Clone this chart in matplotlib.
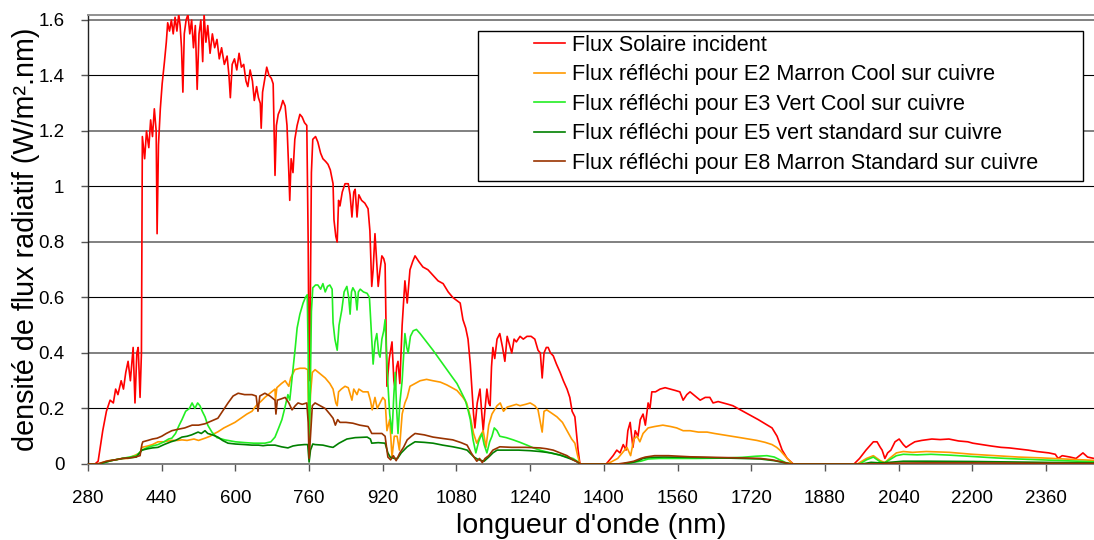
import matplotlib
matplotlib.use("Agg")
import matplotlib.pyplot as plt
from matplotlib.patches import Rectangle
from matplotlib.ticker import FuncFormatter

plt.rcParams['font.family'] = ['Liberation Sans', 'DejaVu Sans']

# spectra (wavelength nm, W/m2.nm)
solaire_wl = [280, 295, 302, 312, 320, 328, 335, 340, 345, 352, 357, 362, 367, 372, 378, 382, 386, 389, 393, 396,
              398, 403, 407, 412, 416, 420, 424, 428, 430, 433, 437, 441, 446, 450, 453, 457, 461, 465, 469, 473,
              477, 480, 483, 486, 489, 493, 497, 501, 505, 509, 513, 517, 521, 525, 529, 532, 536, 540, 545, 550,
              555, 560, 565, 570, 576, 582, 586, 589, 593, 598, 603, 608, 613, 618, 623, 627, 632, 637, 641, 646,
              650, 654, 656, 659, 663, 668, 673, 678, 682, 686, 689, 693, 698, 703, 708, 712, 716, 718, 721, 725,
              729, 734, 740, 745, 750, 755, 758, 760, 762, 765, 768, 774, 779, 785, 790, 796, 801, 806, 812, 814,
              818, 821, 824, 827, 832, 838, 845, 849, 853, 857, 860, 864, 868, 874, 881, 888, 892, 896, 899, 903,
              907, 910, 914, 918, 922, 925, 929, 934, 940, 944, 947, 950, 953, 957, 962, 968, 973, 979, 985, 990,
              998, 1007, 1018, 1029, 1040, 1051, 1062, 1072, 1080, 1088, 1094, 1100, 1105, 1110, 1114, 1117, 1120,
              1125, 1131, 1135, 1138, 1142, 1146, 1150, 1153, 1156, 1159, 1163, 1168, 1174, 1180, 1185, 1190, 1195,
              1200, 1205, 1210, 1218, 1225, 1233, 1242, 1250, 1257, 1262, 1266, 1270, 1275, 1279, 1284, 1290, 1297,
              1305, 1312, 1320, 1326, 1331, 1337, 1341, 1344, 1348, 1405, 1410, 1420, 1428, 1435, 1442, 1448, 1452,
              1457, 1463, 1468, 1474, 1479, 1485, 1490, 1496, 1500, 1504, 1512, 1522, 1533, 1544, 1555, 1565, 1572,
              1580, 1587, 1598, 1609, 1620, 1630, 1637, 1648, 1659, 1670, 1680, 1691, 1702, 1713, 1724, 1735, 1745,
              1755, 1765, 1776, 1787, 1798, 1811, 1943, 1955, 1969, 1985, 1993, 2000, 2004, 2010, 2016, 2023, 2032,
              2041, 2050, 2056, 2065, 2075, 2090, 2112, 2130, 2149, 2170, 2190, 2201, 2220, 2240, 2262, 2280, 2300,
              2321, 2340, 2366, 2380, 2386, 2395, 2412, 2425, 2440, 2450, 2464]
solaire_val = [0, 0, 0.01, 0.12, 0.19, 0.23, 0.22, 0.27, 0.25, 0.30, 0.27, 0.33, 0.37, 0.30, 0.42, 0.22, 0.40, 0.42, 0.24, 0.40,
               1.18, 1.10, 1.20, 1.14, 1.24, 1.18, 1.28, 1.20, 0.83, 1.15, 1.28, 1.37, 1.45, 1.52, 1.59, 1.56, 1.60, 1.55, 1.61, 1.56,
               1.62, 1.58, 1.50, 1.34, 1.55, 1.60, 1.62, 1.55, 1.60, 1.50, 1.58, 1.35, 1.55, 1.60, 1.45, 1.62, 1.52, 1.58, 1.48, 1.55,
               1.50, 1.53, 1.46, 1.50, 1.44, 1.47, 1.40, 1.32, 1.44, 1.46, 1.42, 1.48, 1.43, 1.44, 1.38, 1.36, 1.42, 1.38, 1.31, 1.36,
               1.32, 1.30, 1.21, 1.34, 1.38, 1.43, 1.40, 1.39, 1.37, 1.04, 1.22, 1.26, 1.28, 1.31, 1.29, 1.22, 1.05, 0.95, 1.10, 1.05,
               1.17, 1.22, 1.26, 1.25, 1.23, 1.22, 0.80, 0.30, 0.45, 1.05, 1.17, 1.18, 1.16, 1.12, 1.10, 1.09, 1.08, 1.06, 1.01, 0.88,
               0.82, 0.80, 0.95, 0.93, 0.98, 1.01, 1.01, 0.97, 0.89, 0.98, 0.99, 0.89, 0.97, 0.95, 0.94, 0.92, 0.84, 0.64, 0.70, 0.83,
               0.72, 0.64, 0.70, 0.75, 0.74, 0.72, 0.28, 0.38, 0.44, 0.30, 0.27, 0.35, 0.37, 0.29, 0.50, 0.66, 0.58, 0.70, 0.73, 0.75,
               0.73, 0.71, 0.70, 0.68, 0.66, 0.65, 0.62, 0.60, 0.59, 0.58, 0.52, 0.49, 0.45, 0.36, 0.26, 0.18, 0.13,
               0.22, 0.27, 0.18, 0.12, 0.20, 0.27, 0.22, 0.21, 0.35, 0.42, 0.38, 0.45, 0.47, 0.42, 0.37, 0.46, 0.43,
               0.40, 0.45, 0.44, 0.46, 0.45, 0.46, 0.46, 0.45, 0.41, 0.40, 0.31, 0.40, 0.42, 0.42, 0.40, 0.39, 0.36,
               0.33, 0.30, 0.27, 0.24, 0.19, 0.17, 0.10, 0.05, 0, 0, 0.01, 0.03, 0.05, 0.04, 0.07, 0.05, 0.12,
               0.15, 0.06, 0.12, 0.10, 0.16, 0.18, 0.14, 0.22, 0.20, 0.26, 0.26, 0.27, 0.275, 0.27, 0.265, 0.26, 0.23,
               0.25, 0.26, 0.245, 0.23, 0.24, 0.24, 0.22, 0.225, 0.22, 0.215, 0.21, 0.20, 0.19, 0.18, 0.17, 0.16, 0.15,
               0.14, 0.13, 0.10, 0.05, 0.02, 0, 0, 0.02, 0.05, 0.08, 0.08, 0.06, 0.05, 0.02, 0.04, 0.05, 0.08,
               0.09, 0.07, 0.06, 0.07, 0.08, 0.085, 0.09, 0.088, 0.09, 0.083, 0.08, 0.075, 0.07, 0.065, 0.06, 0.058, 0.054,
               0.05, 0.045, 0.04, 0.035, 0.02, 0.03, 0.025, 0.02, 0.04, 0.025, 0.02]

e2_wl = [280, 300, 310, 325, 339, 355, 367, 380, 393, 397, 410, 420, 432, 445, 460, 475, 484, 495, 510, 520,
         534, 545, 555, 562, 575, 587, 599, 612, 625, 636, 645, 655, 664, 675, 686, 687, 690, 700, 708, 716,
         720, 729, 740, 751, 757, 760, 763, 767, 773, 784, 795, 805, 812, 818, 821, 824, 830, 838, 845, 853,
         857, 864, 868, 877, 888, 893, 897, 903, 908, 914, 920, 925, 929, 935, 940, 945, 951, 956, 962, 968,
         973, 979, 990, 1001, 1015, 1029, 1045, 1059, 1070, 1081, 1094, 1102, 1110, 1117, 1124, 1131, 1138, 1144,
         1150, 1157, 1168, 1175, 1182, 1190, 1200, 1210, 1218, 1230, 1240, 1250, 1257, 1266, 1270, 1276, 1285,
         1298, 1310, 1320, 1330, 1337, 1343, 1348, 1405, 1413, 1430, 1440, 1450, 1458, 1465, 1472, 1478, 1485,
         1496, 1510, 1528, 1545, 1558, 1572, 1587, 1605, 1624, 1640, 1659, 1678, 1696, 1714, 1732, 1750, 1765,
         1775, 1782, 1790, 1798, 1810, 1950, 1970, 1985, 2000, 2010, 2020, 2035, 2050, 2070, 2100, 2150, 2200,
         2250, 2300, 2350, 2400, 2464]
e2_val = [0, 0, 0.005, 0.012, 0.015, 0.02, 0.02, 0.03, 0.04, 0.06, 0.065, 0.07, 0.08, 0.08, 0.085, 0.085, 0.087, 0.085, 0.09, 0.085,
          0.093, 0.10, 0.11, 0.116, 0.13, 0.14, 0.15, 0.165, 0.18, 0.19, 0.21, 0.225, 0.24, 0.255, 0.27, 0.23, 0.275, 0.29, 0.30, 0.28,
          0.31, 0.34, 0.345, 0.345, 0.34, 0.10, 0.25, 0.33, 0.34, 0.325, 0.31, 0.29, 0.27, 0.22, 0.21, 0.26, 0.27, 0.28, 0.275, 0.23,
          0.27, 0.25, 0.27, 0.26, 0.26, 0.23, 0.195, 0.24, 0.20, 0.22, 0.24, 0.23, 0.12, 0.16, 0.025, 0.10, 0.10, 0.05, 0.18, 0.22,
          0.24, 0.28, 0.29, 0.30, 0.305, 0.30, 0.295, 0.285, 0.275, 0.265, 0.24, 0.22, 0.17, 0.11, 0.075, 0.10, 0.12, 0.06,
          0.14, 0.18, 0.21, 0.22, 0.19, 0.205, 0.21, 0.215, 0.21, 0.215, 0.22, 0.21, 0.195, 0.115, 0.19, 0.195, 0.185,
          0.17, 0.15, 0.12, 0.09, 0.075, 0.03, 0, 0, 0.005, 0.02, 0.04, 0.06, 0.03, 0.09, 0.10, 0.08, 0.11,
          0.13, 0.135, 0.14, 0.135, 0.13, 0.12, 0.12, 0.115, 0.115, 0.11, 0.105, 0.10, 0.095, 0.09, 0.085, 0.078, 0.07,
          0.06, 0.05, 0.035, 0.02, 0, 0, 0.02, 0.03, 0.012, 0.005, 0.02, 0.04, 0.045, 0.042, 0.045, 0.042, 0.035,
          0.03, 0.025, 0.022, 0.018, 0.013]

e3_wl = [280, 305, 315, 330, 339, 355, 370, 385, 397, 410, 420, 432, 445, 455, 462, 470, 478, 484, 492, 500,
         506, 512, 518, 523, 528, 534, 540, 549, 560, 577, 600, 621, 640, 664, 677, 686, 694, 701, 707, 714,
         718, 723, 730, 734, 740, 747, 752, 756, 758, 760, 762, 765, 768, 774, 779, 785, 790, 795, 800, 805,
         810, 812, 816, 821, 825, 831, 836, 842, 846, 849, 852, 855, 860, 864, 867, 871, 878, 886, 891, 896,
         899, 903, 907, 911, 914, 918, 922, 925, 928, 931, 935, 940, 944, 947, 950, 953, 957, 962, 968, 972,
         975, 980, 986, 993, 1001, 1015, 1029, 1044, 1059, 1070, 1081, 1090, 1099, 1105, 1110, 1116, 1122, 1128,
         1135, 1140, 1146, 1152, 1157, 1162, 1168, 1174, 1188, 1203, 1218, 1233, 1247, 1261, 1283, 1305, 1320,
         1333, 1342, 1348, 1440, 1460, 1480, 1496, 1520, 1560, 1600, 1650, 1700, 1730, 1754, 1770, 1782, 1795,
         1810, 1955, 1970, 1985, 1998, 2008, 2020, 2035, 2050, 2080, 2110, 2150, 2200, 2250, 2300, 2350, 2400, 2464]
e3_val = [0, 0, 0.005, 0.012, 0.015, 0.02, 0.025, 0.03, 0.05, 0.06, 0.065, 0.07, 0.08, 0.09, 0.093, 0.11, 0.14, 0.16, 0.19, 0.20,
          0.22, 0.20, 0.22, 0.21, 0.19, 0.17, 0.14, 0.115, 0.095, 0.087, 0.08, 0.077, 0.075, 0.075, 0.08, 0.097, 0.13, 0.16, 0.20, 0.25,
          0.23, 0.31, 0.42, 0.49, 0.54, 0.58, 0.60, 0.61, 0.40, 0.02, 0.20, 0.55, 0.635, 0.645, 0.645, 0.63, 0.65, 0.62, 0.64, 0.645,
          0.63, 0.51, 0.45, 0.41, 0.50, 0.555, 0.62, 0.64, 0.60, 0.54, 0.62, 0.635, 0.62, 0.555, 0.62, 0.63, 0.62, 0.615, 0.60, 0.45,
          0.36, 0.44, 0.47, 0.40, 0.385, 0.45, 0.48, 0.52, 0.40, 0.29, 0.18, 0.11, 0.25, 0.33, 0.20, 0.11, 0.22, 0.30, 0.47, 0.42,
          0.40, 0.46, 0.48, 0.485, 0.47, 0.44, 0.41, 0.375, 0.34, 0.315, 0.29, 0.26, 0.23, 0.195, 0.16, 0.087, 0.04, 0.08,
          0.11, 0.07, 0.04, 0.08, 0.10, 0.13, 0.12, 0.10, 0.095, 0.087, 0.078, 0.068, 0.058, 0.05, 0.04, 0.032, 0.025,
          0.02, 0.01, 0, 0, 0.005, 0.01, 0.018, 0.02, 0.02, 0.02, 0.021, 0.024, 0.028, 0.03, 0.025, 0.015, 0.005,
          0, 0, 0.015, 0.025, 0.01, 0.003, 0.015, 0.03, 0.035, 0.033, 0.035, 0.032, 0.027, 0.022, 0.018, 0.015, 0.012, 0.008]

e5_wl = [280, 305, 315, 330, 339, 355, 370, 385, 397, 410, 420, 432, 445, 460, 470, 484, 495, 505, 512, 519,
         526, 534, 540, 550, 562, 572, 584, 600, 620, 636, 650, 660, 670, 686, 700, 714, 725, 736, 750, 757,
         760, 763, 768, 773, 790, 805, 812, 825, 842, 860, 886, 893, 896, 910, 925, 931, 936, 945, 952, 960,
         973, 985, 990, 1010, 1029, 1050, 1072, 1090, 1103, 1112, 1118, 1125, 1131, 1140, 1150, 1159, 1168, 1190,
         1215, 1240, 1261, 1285, 1305, 1325, 1340, 1348, 1440, 1460, 1475, 1485, 1500, 1530, 1580, 1650, 1700,
         1740, 1770, 1790, 1805, 1960, 1980, 2000, 2020, 2050, 2100, 2200, 2300, 2400, 2464]
e5_val = [0, 0, 0.005, 0.012, 0.015, 0.02, 0.022, 0.025, 0.05, 0.055, 0.058, 0.06, 0.07, 0.08, 0.085, 0.097, 0.10, 0.105, 0.11, 0.115,
          0.11, 0.12, 0.11, 0.105, 0.097, 0.085, 0.075, 0.072, 0.07, 0.068, 0.068, 0.066, 0.068, 0.068, 0.062, 0.058, 0.065, 0.068, 0.07, 0.07,
          0.007, 0.05, 0.072, 0.07, 0.068, 0.062, 0.06, 0.075, 0.09, 0.095, 0.097, 0.09, 0.075, 0.077, 0.075, 0.04, 0.025, 0.02, 0.02, 0.04,
          0.062, 0.075, 0.08, 0.078, 0.075, 0.068, 0.062, 0.056, 0.05, 0.035, 0.025, 0.018, 0.014, 0.01, 0.025, 0.04, 0.05, 0.05,
          0.05, 0.048, 0.045, 0.04, 0.032, 0.02, 0.01, 0, 0, 0.005, 0.012, 0.02, 0.024, 0.025, 0.024, 0.022, 0.02,
          0.018, 0.012, 0.005, 0, 0, 0.006, 0.004, 0.006, 0.01, 0.01, 0.009, 0.007, 0.005, 0.004]

e8_wl = [280, 300, 307, 320, 339, 355, 370, 382, 393, 397, 399, 410, 420, 430, 440, 450, 462, 475, 490, 506,
         520, 534, 548, 562, 572, 584, 595, 606, 620, 636, 645, 649, 653, 664, 675, 686, 688, 691, 700, 708,
         716, 723, 730, 736, 745, 755, 758, 760, 763, 767, 773, 784, 795, 805, 812, 817, 822, 827, 840, 855,
         870, 888, 893, 896, 905, 918, 925, 931, 937, 943, 949, 957, 965, 973, 982, 990, 1010, 1029, 1050, 1072,
         1090, 1103, 1112, 1118, 1124, 1130, 1136, 1142, 1150, 1159, 1174, 1200, 1230, 1261, 1275, 1290, 1305,
         1320, 1333, 1345, 1350, 1430, 1450, 1465, 1480, 1490, 1510, 1540, 1587, 1640, 1696, 1740, 1765, 1785,
         1800, 1810, 2000, 2020, 2100, 2200, 2300, 2464]
e8_val = [0, 0, 0.003, 0.01, 0.015, 0.02, 0.022, 0.025, 0.03, 0.07, 0.08, 0.085, 0.09, 0.093, 0.10, 0.11, 0.12, 0.125, 0.13, 0.14,
          0.14, 0.145, 0.155, 0.165, 0.19, 0.22, 0.245, 0.255, 0.25, 0.25, 0.245, 0.19, 0.245, 0.255, 0.245, 0.23, 0.18, 0.23, 0.235, 0.24,
          0.22, 0.195, 0.21, 0.22, 0.215, 0.22, 0.15, 0.02, 0.10, 0.21, 0.22, 0.21, 0.20, 0.18, 0.165, 0.14, 0.16, 0.15, 0.15, 0.147,
          0.14, 0.135, 0.12, 0.11, 0.11, 0.11, 0.10, 0.025, 0.015, 0.03, 0.012, 0.04, 0.06, 0.087, 0.10, 0.11, 0.105, 0.097, 0.092, 0.087,
          0.077, 0.068, 0.04, 0.025, 0.01, 0.02, 0.005, 0.02, 0.03, 0.05, 0.062, 0.06, 0.06, 0.058, 0.055, 0.05, 0.04,
          0.03, 0.015, 0.005, 0, 0, 0.005, 0.01, 0.02, 0.025, 0.03, 0.03, 0.026, 0.024, 0.022, 0.02, 0.015, 0.008,
          0.002, 0, 0, 0.003, 0.004, 0.004, 0.003, 0.002]

labels = ['Flux Solaire incident',
          'Flux réfléchi pour E2 Marron Cool sur cuivre',
          'Flux réfléchi pour E3 Vert Cool sur cuivre',
          'Flux réfléchi pour E5 vert standard sur cuivre',
          'Flux réfléchi pour E8 Marron Standard sur cuivre']
colors = ['#ff0000', '#ff9900', '#22ee22', '#008000', '#993300']
xticks = list(range(280, 2361, 160))
yticks = [0, 0.2, 0.4, 0.6, 0.8, 1.0, 1.2, 1.4, 1.6]

fig = plt.figure(figsize=(10.94, 5.40), dpi=100)
ax = fig.add_axes([88 / 1094, 76 / 540, 1006 / 1094, 449 / 540])

series = [(solaire_wl, solaire_val), (e2_wl, e2_val), (e3_wl, e3_val), (e5_wl, e5_val), (e8_wl, e8_val)]
for (wl, val), c, lab in zip(series, colors, labels):
    ax.plot(wl, val, color=c, lw=1.2, label=lab, zorder=3)

ax.set_xlim(280, 2464)
ax.set_ylim(0, 1.618)
ax.set_xticks(xticks)
ax.set_yticks(yticks)
ax.yaxis.set_major_formatter(FuncFormatter(lambda v, p: '%g' % v))
ax.tick_params(axis='both', direction='out', length=5, width=1, labelsize=13.5, color='#555555')
ax.tick_params(axis='x', pad=14)
ax.tick_params(axis='y', pad=12)

ax.grid(axis='y', color='black', lw=0.8, zorder=1)
for i, gl in enumerate(ax.get_ygridlines()):
    if i % 2 == 0:
        gl.set_color('#808080')
        gl.set_linewidth(1.4)

ax.spines['right'].set_visible(False)
ax.spines['top'].set_color('#909090')
ax.spines['top'].set_linewidth(1.4)
ax.spines['bottom'].set_color('#808080')
ax.spines['bottom'].set_linewidth(1.4)
ax.spines['left'].set_color('#222222')
ax.spines['left'].set_linewidth(1.0)

ax.set_xlabel("longueur d'onde (nm)", fontsize=20.5, labelpad=4)
ax.set_ylabel('densité de flux radiatif (W/m².nm)', fontsize=20.7)
ax.yaxis.set_label_coords(-0.048, 0.5)

# legend frame drawn separately so the left margin matches
ax.add_patch(Rectangle(((478 - 88) / 1006, (464 - 181) / 449), (1083 - 478) / 1006, (181 - 31) / 449,
                       transform=ax.transAxes, facecolor='white', edgecolor='black', lw=1, zorder=5))
leg = ax.legend(loc='upper left', bbox_to_anchor=((534 - 88) / 1006, (464 - 35) / 449), frameon=False,
                fontsize=15.6, handlelength=1.45, handletextpad=0.3, labelspacing=0.39, borderaxespad=0,
                borderpad=0)
leg.set_zorder(6)

fig.savefig('out.png', dpi=100)
